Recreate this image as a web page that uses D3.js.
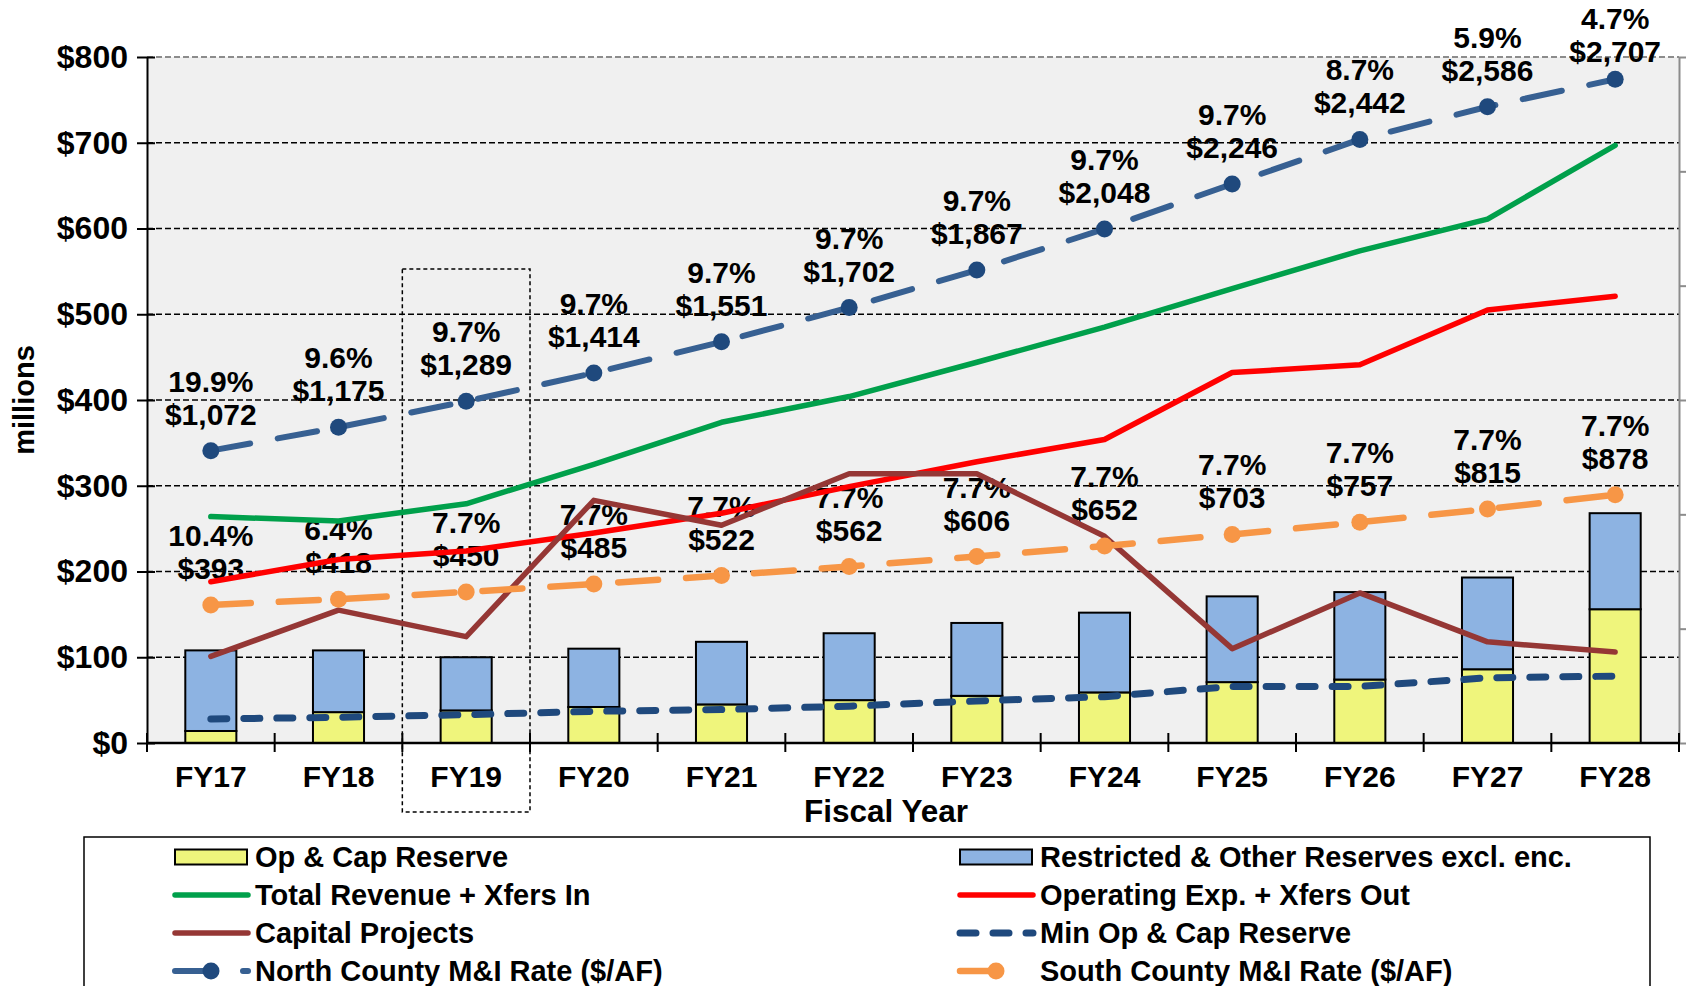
<!DOCTYPE html>
<html>
<head>
<meta charset="utf-8">
<script src="https://cdn.jsdelivr.net/npm/d3@7"></script>
<style>
body { margin: 0; background: #fff; }
text { font-family: "Liberation Sans", Arial, sans-serif; font-weight: bold; fill: #000; }
</style>
</head>
<body>
<script>
var years = ["FY17","FY18","FY19","FY20","FY21","FY22","FY23","FY24","FY25","FY26","FY27","FY28"];
var opCapReserve      = [14, 36, 38, 42, 45, 50, 55, 59, 71, 74, 86, 156];
var restrictedReserve = [94, 72, 62, 68, 73, 78, 85, 93, 100, 102, 107, 112];
var totalRevenue      = [264, 259, 279, 325, 374, 404, 444, 485, 530, 574, 611, 697];
var operatingExp      = [188, 214, 224, 245, 268, 299, 328, 354, 432, 441, 505, 521];
var capitalProjects   = [101, 155, 124, 283, 254, 314, 314, 241, 110, 175, 118, 106];
var minReserve        = [28, 30, 33, 37, 39, 43, 49, 54, 66, 66, 76, 78];
var northRate = [1072, 1175, 1289, 1414, 1551, 1702, 1867, 2048, 2246, 2442, 2586, 2707];
var northPct  = ["19.9%","9.6%","9.7%","9.7%","9.7%","9.7%","9.7%","9.7%","9.7%","8.7%","5.9%","4.7%"];
var southRate = [393, 418, 450, 485, 522, 562, 606, 652, 703, 757, 815, 878];
var southPct  = ["10.4%","6.4%","7.7%","7.7%","7.7%","7.7%","7.7%","7.7%","7.7%","7.7%","7.7%","7.7%"];
var yTicks = [0, 100, 200, 300, 400, 500, 600, 700, 800];
var rightDomain = [-215, 2805];

var W = 1686, H = 986;
var pL = 147, pR = 1679, pT = 57, pB = 743;
var fs = "30px";

var svg = d3.select("body").append("svg").attr("width", W).attr("height", H);

var x = d3.scaleBand().domain(years).range([pL, pR]);
var xc = function(d){ return x(d) + x.bandwidth()/2; };
var y = d3.scaleLinear().domain([0, 800]).range([pB, pT]);
var yR = d3.scaleLinear().domain(rightDomain).range([pB, pT]);

// plot background
svg.append("rect").attr("x", pL).attr("y", pT).attr("width", pR-pL).attr("height", pB-pT).attr("fill", "#f0f0f0");

// gridlines
svg.selectAll("line.grid")
   .data(yTicks.filter(function(d){ return d > 0; }))
   .enter().append("line")
      .attr("class", "grid")
      .attr("x1", pL).attr("x2", pR)
      .attr("y1", function(d){ return y(d); }).attr("y2", function(d){ return y(d); })
      .attr("stroke", function(d){ return d == 800 ? "#8c8c8c" : "#000"; })
      .attr("stroke-width", function(d){ return d == 800 ? 2 : 1.4; })
      .attr("stroke-dasharray", "6,3");

// stacked bars
var barW = x.bandwidth()*0.4;
svg.selectAll("rect.op")
   .data(opCapReserve)
   .enter().append("rect")
      .attr("class", "op")
      .attr("x", function(d,i){ return xc(years[i]) - barW/2; })
      .attr("y", function(d){ return y(d); })
      .attr("width", barW)
      .attr("height", function(d){ return y(0) - y(d); })
      .attr("fill", "#eff57c").attr("stroke", "#000").attr("stroke-width", 2);
svg.selectAll("rect.res")
   .data(restrictedReserve)
   .enter().append("rect")
      .attr("class", "res")
      .attr("x", function(d,i){ return xc(years[i]) - barW/2; })
      .attr("y", function(d,i){ return y(d + opCapReserve[i]); })
      .attr("width", barW)
      .attr("height", function(d){ return y(0) - y(d); })
      .attr("fill", "#8db3e2").attr("stroke", "#000").attr("stroke-width", 2);

// left axis
var ga = svg.append("g").attr("transform", "translate(" + pL + ",0)")
   .call(d3.axisLeft(y).tickValues(yTicks).tickFormat(function(d){ return "$" + d; }).tickSize(10).tickPadding(9).tickSizeOuter(0));
ga.select(".domain").attr("stroke", "#000").attr("stroke-width", 2);
ga.selectAll(".tick line").attr("x1", 8).attr("stroke", "#000").attr("stroke-width", 2);
ga.selectAll(".tick text").style("font-size", "32px").style("font-family", "Liberation Sans, Arial").style("font-weight", "bold").attr("fill", "#000");

// right axis (its labels fall outside the picture)
var rTicks = d3.range(7).map(function(i){ return rightDomain[0] + i*(rightDomain[1]-rightDomain[0])/6; });
var gr = svg.append("g").attr("transform", "translate(" + pR + ",0)")
   .call(d3.axisRight(yR).tickValues(rTicks).tickFormat("").tickSize(8).tickSizeOuter(0));
gr.select(".domain").attr("stroke", "#8c8c8c").attr("stroke-width", 2);
gr.selectAll(".tick line").attr("stroke", "#8c8c8c").attr("stroke-width", 2);

// bottom axis
var gb = svg.append("g").attr("transform", "translate(0," + pB + ")")
   .call(d3.axisBottom(x).tickSize(0).tickPadding(23));
gb.select(".domain").remove();
gb.selectAll(".tick text").style("font-size", fs).style("font-family", "Liberation Sans, Arial").style("font-weight", "bold").attr("fill", "#000");
svg.append("line").attr("x1", pL).attr("x2", pR).attr("y1", pB).attr("y2", pB).attr("stroke", "#000").attr("stroke-width", 2.5);
svg.selectAll("line.xtick")
   .data(years.concat(["end"]))
   .enter().append("line")
      .attr("class", "xtick")
      .attr("x1", function(d){ return d == "end" ? pR : x(d); })
      .attr("x2", function(d){ return d == "end" ? pR : x(d); })
      .attr("y1", pB - 10).attr("y2", pB + 9)
      .attr("stroke", "#000").attr("stroke-width", 2);

// axis titles
svg.append("text").attr("x", 886).attr("y", 822).attr("text-anchor", "middle").style("font-size", "31.5px").text("Fiscal Year");
svg.append("text").attr("transform", "translate(34,400) rotate(-90)").attr("text-anchor", "middle").style("font-size", "29px").text("millions");

// FY19 highlight box
svg.append("rect").attr("x", x("FY19")).attr("y", 269).attr("width", x.bandwidth()).attr("height", 812-269)
   .attr("fill", "none").attr("stroke", "#000").attr("stroke-width", 1.5).attr("stroke-dasharray", "4,3");

// rate labels
function rateLabels(vals, pcts, scale){
  var g = svg.append("g");
  vals.forEach(function(v,i){
    var py = Math.max(scale(v) - 70, 18);
    g.append("text").attr("x", xc(years[i])).attr("y", py + 11).attr("text-anchor", "middle").style("font-size", fs).text(pcts[i]);
    g.append("text").attr("x", xc(years[i])).attr("y", py + 44).attr("text-anchor", "middle").style("font-size", fs).text("$" + d3.format(",")(v));
  });
}
rateLabels(northRate, northPct, yR);
rateLabels(southRate, southPct, yR);

// lines
function drawLine(vals, scale, color, width, dash){
  var line = d3.line().x(function(d,i){ return xc(years[i]); }).y(function(d){ return scale(d); });
  svg.append("path").datum(vals).attr("d", line)
     .attr("fill", "none").attr("stroke", color).attr("stroke-width", width)
     .attr("stroke-linejoin", "round").attr("stroke-linecap", "round")
     .attr("stroke-dasharray", dash || null);
}
drawLine(totalRevenue, y, "#00a04b", 5.5);
drawLine(operatingExp, y, "#ff0000", 5.5);
drawLine(capitalProjects, y, "#953735", 5.5);
drawLine(minReserve, y, "#1f497d", 7, "16,17");
drawLine(northRate, yR, "#376092", 6, "40,28");
drawLine(southRate, yR, "#f79646", 6.5, "40,28");

svg.selectAll("circle.north")
   .data(northRate)
   .enter().append("circle")
      .attr("class", "north")
      .attr("cx", function(d,i){ return xc(years[i]); })
      .attr("cy", function(d){ return yR(d); })
      .attr("r", 8.5).attr("fill", "#1f497d");
svg.selectAll("circle.south")
   .data(southRate)
   .enter().append("circle")
      .attr("class", "south")
      .attr("cx", function(d,i){ return xc(years[i]); })
      .attr("cy", function(d){ return yR(d); })
      .attr("r", 8.5).attr("fill", "#f79646");

// legend
svg.append("rect").attr("x", 84).attr("y", 837).attr("width", 1650-84).attr("height", 200)
   .attr("fill", "#fff").attr("stroke", "#000").attr("stroke-width", 1.5);

var legendItems = [
  {name: "Op & Cap Reserve", type: "bar", color: "#eff57c", col: 0, row: 0},
  {name: "Restricted & Other Reserves excl. enc.", type: "bar", color: "#8db3e2", col: 1, row: 0},
  {name: "Total Revenue + Xfers In", type: "line", color: "#00a04b", w: 5.5, col: 0, row: 1},
  {name: "Operating Exp. + Xfers Out", type: "line", color: "#ff0000", w: 5.5, col: 1, row: 1},
  {name: "Capital Projects", type: "line", color: "#953735", w: 5.5, col: 0, row: 2},
  {name: "Min Op & Cap Reserve", type: "line", color: "#1f497d", w: 7, dash: "16,17", col: 1, row: 2},
  {name: "North County M&I Rate ($/AF)", type: "line", color: "#376092", w: 6, dash: "40,28", dot: "#1f497d", col: 0, row: 3},
  {name: "South County M&I Rate ($/AF)", type: "line", color: "#f79646", w: 6.5, dash: "40,28", dot: "#f79646", col: 1, row: 3, short: true}
];
var colX = [175, 960], textX = [255, 1040], rowY = [857, 895, 933, 971];
legendItems.forEach(function(it){
  var x0 = colX[it.col], yy = rowY[it.row];
  if (it.type == "bar") {
    svg.append("rect").attr("x", x0).attr("y", yy - 7.5).attr("width", 72).attr("height", 15)
       .attr("fill", it.color).attr("stroke", "#000").attr("stroke-width", 2);
  } else {
    svg.append("line").attr("x1", x0).attr("x2", it.short ? x0 + 44 : x0 + 73).attr("y1", yy).attr("y2", yy)
       .attr("stroke", it.color).attr("stroke-width", it.w).attr("stroke-linecap", "round")
       .attr("stroke-dasharray", it.dash || null);
    if (it.dot) svg.append("circle").attr("cx", x0 + 36).attr("cy", yy).attr("r", 8.5).attr("fill", it.dot);
  }
  svg.append("text").attr("x", textX[it.col]).attr("y", yy + 10).style("font-size", "29px").text(it.name);
});
</script>
</body>
</html>
